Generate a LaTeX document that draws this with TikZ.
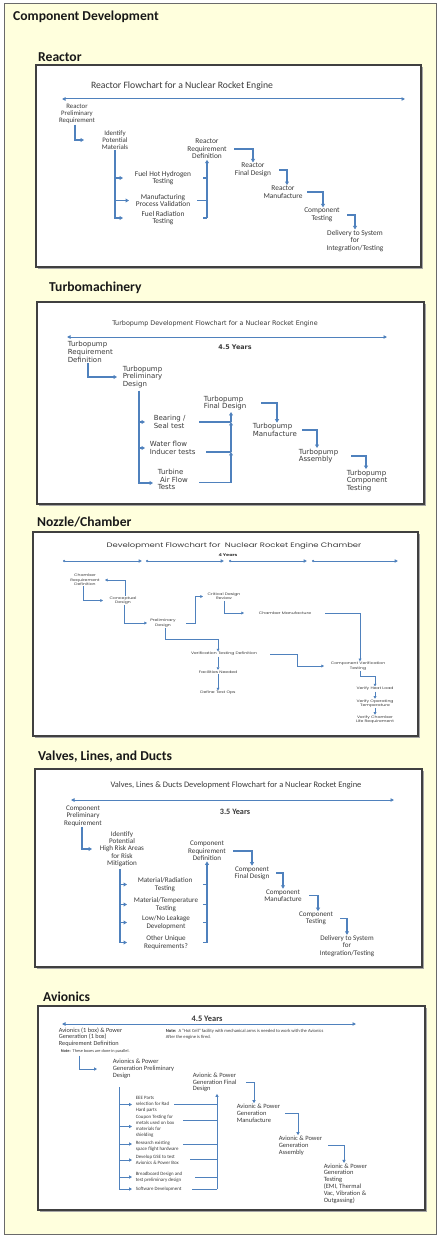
\documentclass[tikz,border=0pt]{standalone}
\usepackage{fontspec}
\setmainfont{Carlito}
\newfontfamily\dvfont{DejaVu Sans}
\newfontfamily\popfont[FakeStretch=1.3]{Poppins}
\usetikzlibrary{arrows.meta,calc}
\definecolor{bgyellow}{HTML}{FFFFDD}
\definecolor{flowc}{HTML}{4F81BD}
\definecolor{txtc}{HTML}{3A3A3A}
\definecolor{panelc}{HTML}{404040}
\definecolor{outerc}{HTML}{6A6A6A}
\newcommand\fz[2]{\fontsize{#1}{#2}\selectfont}
\begin{document}
\begin{tikzpicture}[x=1pt,y=-1pt,
  tx/.style={text=txtc, inner sep=0.6pt, align=center},
  txl/.style={text=txtc, inner sep=0.6pt, align=left, anchor=west},
  flow/.style={draw=flowc, line width=1.1pt, -{Triangle[length=3.4pt,width=3.8pt]}},
  flowln/.style={draw=flowc, line width=1.1pt},
  aflow/.style={draw=flowc, line width=0.9pt, -{Triangle[length=3pt,width=3.2pt]}},
  aln/.style={draw=flowc, line width=0.9pt},
  nflow/.style={draw=flowc, line width=0.8pt, -{Triangle[length=2.6pt,width=2.8pt]}},
  span/.style={draw=flowc, line width=1pt, {Triangle[length=3.5pt,width=3.4pt]}-{Triangle[length=3.5pt,width=3.4pt]}},
  seg/.style={draw=flowc, line width=0.9pt, {Circle[length=2.2pt]}-{Triangle[length=3.4pt,width=3.2pt]}},
  panel/.style={draw=panelc, line width=1.3pt, fill=white},
  pshadow/.style={fill=black!35},
  head/.style={anchor=west, inner sep=0pt, font=\bfseries\fz{13.6}{15}, text=black!90}]

\useasboundingbox (0,0) rectangle (441,1238);
\fill[white] (0,0) rectangle (441,1238);
\draw[draw=outerc, line width=1pt, fill=bgyellow] (4.5,3.5) rectangle (436.5,1234.5);
\node[head] (hMain) at (13,17) {Component Development};

% ================= REACTOR =================
\node[head] (hR) at (38,57) {Reactor};
\path[pshadow] (38,67) rectangle (423,269);
\path[panel] (36,65) rectangle (421,267);
\node[tx, font=\fz{9.7}{10}] (rT) at (182,86) {Reactor Flowchart for a Nuclear Rocket Engine};
\coordinate (rL) at (62,99); \coordinate (rR) at (405,99);
\draw[span] (rL) -- (rR);
\begin{scope}[every node/.append style={font=\fz{7.4}{7.6}}]
\node[tx, font=\fz{6.8}{7.1}] (rpr) at (77,114) {Reactor\\Preliminary\\Requirement};
\node[tx, font=\fz{6.9}{7.1}] (ipm) at (115,140) {Identify\\Potential\\Materials};
\node[tx] (fhh) at (163,178) {Fuel Hot Hydrogen\\Testing};
\node[tx] (mpv) at (163,200.5) {Manufacturing\\Process Validation};
\node[tx] (frt) at (163,218) {Fuel Radiation\\Testing};
\node[tx] (rrd) at (207,149) {Reactor\\Requirement\\Definition};
\node[tx] (rfd) at (253,170) {Reactor\\Final Design};
\node[tx] (rman) at (283,192) {Reactor\\Manufacture};
\node[tx] (rct) at (322,215) {Component\\Testing};
\node[tx] (rdel) at (355,241) {Delivery to System\\for\\Integration/Testing};
\end{scope}
\draw[flow] ([xshift=-2pt]rpr.south) |- ([xshift=-31pt]ipm.center);
\draw[flow] (ipm.south) |- ([xshift=8pt]ipm.south |- fhh.center);
\draw[flow] (ipm.south) |- ([xshift=14pt]ipm.south |- mpv.center);
\draw[flow] (ipm.south) |- ([xshift=8pt]ipm.south |- frt.center);
\draw[flowln] ([xshift=-4pt]rrd.south |- fhh.center) -- (rrd.south |- fhh.center);
\draw[flowln] ([xshift=-10pt]rrd.south |- mpv.center) -- (rrd.south |- mpv.center);
\draw[flowln] ([xshift=-4pt]rrd.south |- frt.center) -- (rrd.south |- frt.center);
\draw[flow] (rrd.south |- frt.center) -- (rrd.south);
\draw[flow] ([xshift=27pt]rrd.center) -| (rfd.north);
\draw[flow] ([xshift=26pt]rfd.center) -| ([xshift=4pt]rman.north);
\draw[flow] ([xshift=24pt]rman.center) -| ([xshift=1pt]rct.north);
\draw[flow] ([xshift=25pt]rct.center) -| (rdel.north);

% ================= TURBOMACHINERY =================
\node[head] (hT) at (49,288) {Turbomachinery};
\path[pshadow] (39,304) rectangle (426,506);
\path[panel] (37,302) rectangle (424,504);
\node[tx, font=\dvfont\fz{6.4}{7}] (tT) at (215,324) {Turbopump Development Flowchart for a Nuclear Rocket Engine};
\coordinate (tL) at (67,337); \coordinate (tR) at (387,337);
\draw[span] (tL) -- (tR);
\node[tx, font=\dvfont\bfseries\fz{6.4}{7}] (tY) at (235,347) {4.5 Years};
\begin{scope}[every node/.append style={font=\dvfont\fz{7}{7.7}}]
\node[txl] (treq) at (67,352) {Turbopump\\Requirement\\Definition};
\node[txl] (tpre) at (122,377) {Turbopump\\Preliminary\\Design};
\node[txl] (tbear) at (153,422) {Bearing /\\Seal test};
\node[txl] (twater) at (149,448) {Water flow\\Inducer tests};
\node[txl] (tturb) at (157,479.5) {Turbine\\\ Air Flow\\Tests};
\node[txl] (tfin) at (203,403) {Turbopump\\Final Design};
\node[txl] (tman) at (252,430) {Turbopump\\Manufacture};
\node[txl] (tass) at (298,456) {Turbopump\\Assembly};
\node[txl] (tcomp) at (346,481) {Turbopump\\Component\\Testing};
\end{scope}
\draw[flow] ([xshift=21pt]treq.south west) |- ([xshift=-5pt]tpre.west);
\coordinate (tbx) at ([xshift=17pt,yshift=-2pt]tpre.south west);
\draw[flow] (tbx) |- ([xshift=-8pt]tbear.west);
\draw[flow] (tbx) |- ([xshift=-4pt]twater.west);
\draw[flow] (tbx) |- ([xshift=-4pt,yshift=-3.5pt]tturb.west);
\coordinate (tvx) at ([xshift=28pt,yshift=-1pt]tfin.south west);
\coordinate (tj1) at (tvx |- tbear.west);
\coordinate (tj2) at ([yshift=-4pt]tvx |- twater.west);
\coordinate (tj3) at ([yshift=-3pt]tvx |- tturb.west);
\draw[flowln] ([xshift=-32pt]tj1) -- (tj1);
\draw[flowln] ([xshift=-25pt]tj2) -- (tj2);
\draw[flowln] ([xshift=-32pt]tj3) -- (tj3);
\draw[flow] (tj3) -- (tj2);
\draw[flow] (tj2) -- (tj1);
\draw[flow] (tj1) -- (tvx);
\draw[flow] ([xshift=58pt]tfin.west) -| ([xshift=25pt]tman.north west);
\draw[flow] ([xshift=50pt]tman.west) -| ([xshift=19pt]tass.north west);
\draw[flow] ([xshift=53pt]tass.west) -| ([xshift=20pt]tcomp.north west);

% ================= NOZZLE / CHAMBER =================
\node[head] (hN) at (37,522) {Nozzle/Chamber};
\path[pshadow] (35,534) rectangle (420,738);
\path[panel] (33,532) rectangle (418,736);
\node[tx, font=\popfont\fz{6.5}{7.5}] (nT) at (234,546) {Development Flowchart for\ \ Nuclear Rocket Engine Chamber};
\node[tx, font=\popfont\bfseries\fz{3.8}{5}] (nY) at (228,555) {4 Years};
\coordinate (nt0) at (63,561); \coordinate (nt1) at (142,561);
\coordinate (nt1b) at (146,561); \coordinate (nt2) at (224,561);
\coordinate (nt2b) at (229,561); \coordinate (nt3) at (307,561);
\coordinate (nt3b) at (312,561); \coordinate (nt4) at (398,561);
\draw[seg] (nt0) -- (nt1);
\draw[seg] (nt1b) -- (nt2);
\draw[seg] (nt2b) -- (nt3);
\draw[seg] (nt3b) -- (nt4);
\begin{scope}[every node/.append style={font=\popfont\fz{3.5}{4.3}, inner sep=1pt, text=txtc!85}]
\node[tx] (ncrd) at (85,580) {Chamber\\Requirement\\Definition};
\node[tx] (ncd) at (123,600.5) {Conceptual\\Design};
\node[tx] (npd) at (163,623) {Preliminary\\Design};
\node[tx] (ncdr) at (224,596.5) {Critical Design\\Review};
\node[tx] (ncm) at (285,613) {Chamber Manufacture};
\node[tx] (nvtd) at (224,654) {Verification Testing Definition};
\node[tx] (nfn) at (218,672) {Facilities Needed};
\node[tx] (ndto) at (218,693) {Define Test Ops};
\node[tx] (ncvt) at (358,666) {Component Verification\\Testing};
\node[tx] (nvhl) at (375,689) {Verify Heat Load};
\node[tx] (nvot) at (375,703.5) {Verify Operating\\Temperature};
\node[tx] (nvcl) at (375,719.5) {Verify Chamber\\Life Requirement};
\end{scope}
\draw[nflow] ([xshift=2pt]ncd.north) |- ([xshift=20pt]ncrd.center);
\draw[nflow] ([xshift=-2pt]ncrd.south) |- ([xshift=-20pt]ncd.center);
\draw[nflow] ([xshift=1pt]ncd.south) |- ([xshift=-16pt]npd.center);
\draw[nflow] ([xshift=23pt]npd.center) -- ++(9,0) |- ([xshift=-21pt]ncdr.center);
\draw[nflow] (ncdr.south) |- ([xshift=-41pt]ncm.center);
\draw[nflow] ([xshift=40pt]ncm.center) -| ([xshift=2pt]ncvt.north);
\draw[nflow] ([xshift=2pt]npd.south) -- ++(0,12) -| ([xshift=-6pt]nvtd.north);
\draw[nflow] ([xshift=46pt]nvtd.center) -- ++(27,0) |- ([xshift=-34pt]ncvt.center);
\draw[nflow] ([xshift=-6pt]nvtd.south) -- (nfn.north);
\draw[nflow] (nfn.south) -- (ndto.north);
\draw[nflow] ([xshift=2pt]ncvt.south) -- ++(0,6) -| (nvhl.north);
\draw[nflow] (nvhl.south) -- (nvot.north);
\draw[nflow] (nvot.south) -- (nvcl.north);

% ================= VALVES, LINES, AND DUCTS =================
\node[head] (hV) at (38,757) {Valves, Lines, and Ducts};
\path[pshadow] (37,771) rectangle (424,969);
\path[panel] (35,769) rectangle (422,967);
\node[tx, font=\fz{8.4}{10}] (vT) at (236,785) {Valves, Lines \& Ducts Development Flowchart for a Nuclear Rocket Engine};
\coordinate (vL) at (71,800); \coordinate (vR) at (394,800);
\draw[span] (vL) -- (vR);
\node[tx, font=\bfseries\fz{8.2}{9}] (vY) at (235,812) {3.5 Years};
\begin{scope}[every node/.append style={font=\fz{7.1}{7.3}}]
\node[tx] (vcpr) at (83,816) {Component\\Preliminary\\Requirement};
\node[tx] (vipa) at (122,849) {Identify\\Potential\\High Risk Areas\\for Risk\\Mitigation};
\node[tx] (vmr) at (165,884.5) {Material/Radiation\\Testing};
\node[tx] (vmt) at (166,904.5) {Material/Temperature\\Testing};
\node[tx] (vll) at (166,922.5) {Low/No Leakage\\Development};
\node[tx] (vou) at (166,942.5) {Other Unique\\Requirements?};
\node[tx] (vcrd) at (207,851) {Component\\Requirement\\Definition};
\node[tx] (vcfd) at (252,873) {Component\\Final Design};
\node[tx] (vcm) at (283,895.5) {Component\\Manufacture};
\node[tx] (vct) at (316,918.5) {Component\\Testing};
\node[tx] (vdel) at (347,946) {Delivery to System\\for\\Integration/Testing};
\end{scope}
\draw[flow] ([xshift=-1pt]vcpr.south) |- ([xshift=-30pt]vipa.center);
\coordinate (vbx) at ([xshift=-2pt,yshift=-2pt]vipa.south);
\draw[flow] (vbx) |- ([xshift=7pt]vbx |- vmr.center);
\draw[flow] (vbx) |- ([xshift=7pt]vbx |- vmt.center);
\draw[flow] (vbx) |- ([xshift=7pt]vbx |- vll.center);
\draw[flow] (vbx) |- ([xshift=7pt]vbx |- vou.center);
\draw[flowln] ([xshift=-4pt]vcrd.south |- vmr.center) -- (vcrd.south |- vmr.center);
\draw[flowln] ([xshift=-4pt]vcrd.south |- vmt.center) -- (vcrd.south |- vmt.center);
\draw[flowln] ([xshift=-4pt]vcrd.south |- vll.center) -- (vcrd.south |- vll.center);
\draw[flowln] ([xshift=-4pt]vcrd.south |- vou.center) -- (vcrd.south |- vou.center);
\draw[flow] (vcrd.south |- vou.center) -- (vcrd.south);
\draw[flow] ([xshift=26pt]vcrd.center) -| (vcfd.north);
\draw[flow] ([xshift=24pt]vcfd.center) -| (vcm.north);
\draw[flow] ([xshift=26pt]vcm.center) -| ([xshift=2pt]vct.north);
\draw[flow] ([xshift=24pt]vct.center) -| (vdel.north);

% ================= AVIONICS =================
\node[head] (hA) at (43,997) {Avionics};
\path[pshadow] (40,1008) rectangle (427,1212);
\path[panel] (38,1006) rectangle (425,1210);
\node[tx, font=\bfseries\fz{8.4}{9}] (aY) at (207,1019) {4.5 Years};
\coordinate (aL) at (62,1024); \coordinate (aR) at (356,1024);
\draw[span] (aL) -- (aR);
\node[txl, font=\fz{6.3}{6.7}] (areq) at (58,1037) {Avionics (1 box) \& Power\\Generation (1 box)\\Requirement Definition};
\node[txl, font=\fz{4.3}{5}] (anote1) at (60,1051) {\textbf{Note:}\ \ These boxes are done in parallel.};
\node[txl, font=\fz{4.6}{6}] (anote2) at (165,1034) {\textbf{Note:}\ \ A ``Hot Cell'' facility with mechanical arms is needed to work with the Avionics\\After the engine is fired.};
\begin{scope}[every node/.append style={font=\fz{6.5}{6.8}}]
\node[txl] (apre) at (112,1069) {Avionics \& Power\\Generation Preliminary\\Design};
\node[txl] (afin) at (192,1082.5) {Avionic \& Power\\Generation Final\\Design};
\node[txl] (aman) at (236,1113) {Avionic \& Power\\Generation\\Manufacture};
\node[txl] (aass) at (278,1145.5) {Avionic \& Power\\Generation\\Assembly};
\node[txl] (atest) at (323,1183.5) {Avionic \& Power\\Generation\\Testing\\(EMI, Thermal\\Vac, Vibration \&\\Outgassing)};
\end{scope}
\begin{scope}[every node/.append style={font=\fz{4.9}{6}}]
\node[txl] (aeee) at (135,1104.5) {EEE Parts\\selection for Rad\\Hard parts};
\node[txl] (acoup) at (135,1126.5) {Coupon Testing for\\metals used on box\\materials for\\shielding};
\node[txl] (ares) at (135,1146) {Research existing\\space flight hardware};
\node[txl] (agse) at (135,1160) {Develop GSE to test\\Avionics \& Power Box};
\node[txl] (abb) at (135,1177) {Breadboard Design and\\test preliminary design};
\node[txl] (asw) at (135,1189) {Software Development};
\end{scope}
\draw[aflow] ([xshift=19pt,yshift=-2pt]anote1.south west) |- ([xshift=-15pt]apre.west);
\coordinate (abx) at ([xshift=7pt,yshift=-8pt]apre.south west);
\draw[aflow] (abx) |- ([xshift=-3pt]aeee.west);
\draw[aflow] (abx) |- ([xshift=-3pt]acoup.west);
\draw[aflow] (abx) |- ([xshift=-3pt,yshift=2pt]ares.west);
\draw[aflow] (abx) |- ([xshift=-3pt]agse.west);
\draw[aflow] (abx) |- ([xshift=-3pt]abb.west);
\draw[aflow] (abx) |- ([xshift=-3pt]asw.west);
\coordinate (arx) at ([xshift=25pt,yshift=-1pt]afin.south west);
\coordinate (aj1) at (arx |- aeee.west);
\coordinate (aj2) at ([yshift=6pt]arx |- acoup.west);
\coordinate (aj3) at ([yshift=2pt]arx |- ares.west);
\coordinate (aj4) at ([yshift=1pt]arx |- agse.west);
\coordinate (aj5) at (arx |- abb.west);
\coordinate (aj6) at (arx |- asw.west);
\draw[aln] ([xshift=-43pt]aj1) -- (aj1);
\draw[aln] ([xshift=-34pt]aj2) -- (aj2);
\draw[aln] ([xshift=-34pt]aj3) -- (aj3);
\draw[aln] ([xshift=-27pt]aj4) -- (aj4);
\draw[aln] ([xshift=-22pt]aj5) -- (aj5);
\draw[aln] ([xshift=-25pt]aj6) -- (aj6);
\draw[aflow] (aj6) -- (arx);
\draw[aflow] ([xshift=54pt]afin.west) -| ([xshift=18pt]aman.north west);
\draw[aflow] ([xshift=49pt]aman.west) -| ([xshift=20pt]aass.north west);
\draw[aflow] ([xshift=50pt]aass.west) -| ([xshift=21pt]atest.north west);
\end{tikzpicture}
\end{document}
